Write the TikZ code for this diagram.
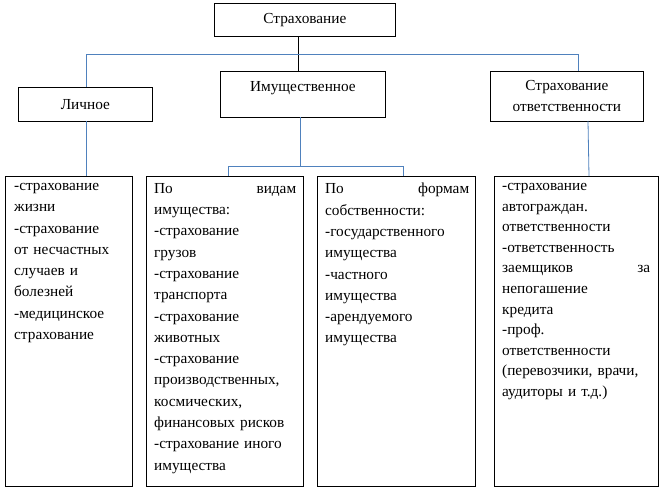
\documentclass[tikz,border=0pt]{standalone}
\usepackage{fontspec}
\setmainfont{Liberation Serif}
\definecolor{conn}{RGB}{79,129,189}
\begin{document}
\begin{tikzpicture}[x=1pt,y=-1pt,
  box/.style={draw,line width=0.8pt,anchor=north west,inner sep=0pt},
  txt/.style={anchor=north west,inner sep=0pt,align=left,font=\fontsize{15.3}{21.3}\selectfont},
  lbl/.style={font=\fontsize{15.3}{21}\selectfont,align=center},
  cn/.style={conn,line width=0.8pt}]
\useasboundingbox (0,0) rectangle (662,488);
\node[box,minimum width=181pt,minimum height=33pt] (top) at (214,3) {};
\node[lbl] at (top.center) {Страхование};
\node[box,minimum width=134pt,minimum height=34pt] (lich) at (18,87) {};
\node[lbl] at (lich.center) {Личное};
\node[box,minimum width=165pt,minimum height=46pt] (im) at (220,71) {};
\node[lbl] at ([yshift=6pt]im.center) {Имущественное};
\node[box,minimum width=153pt,minimum height=50pt] (otv) at (490,71) {};
\node[lbl] at (otv.center) {Страхование\\ответственности};

\node[box,minimum width=127pt,minimum height=310pt] (b1) at (5,176) {};
\node[box,minimum width=157pt,minimum height=310pt] (b2) at (146,176) {};
\node[box,minimum width=158pt,minimum height=310pt] (b3) at (317,176) {};
\node[box,minimum width=164pt,minimum height=310pt] (b4) at (494,176) {};

\node[txt,text width=118pt] (t1) at ([xshift=9pt,yshift=-7pt]b1.north west) {-страхование\\жизни\\-страхование\\от несчастных\\случаев и\\болезней\\-медицинское\\страхование};
\node[txt,text width=142pt] (t2) at ([xshift=8pt,yshift=-7pt]b2.north west) {По\hfill видам\\имущества:\\-страхование\\грузов\\-страхование\\транспорта\\-страхование\\животных\\-страхование\\производственных,\\космических,\\финансовых рисков\\-страхование иного\\имущества};
\node[txt,text width=144pt] (t3) at ([xshift=8pt,yshift=-7pt]b3.north west) {По\hfill формам\\собственности:\\-государственного\\имущества\\-частного\\имущества\\-арендуемого\\имущества};
\node[txt,text width=148pt,font=\fontsize{15.3}{20.6}\selectfont] (t4) at ([xshift=8pt,yshift=-7pt]b4.north west) {-страхование\\автограждан.\\ответственности\\-ответственность\\заемщиков\hfill за\\непогашение\\кредита\\-проф.\\ответственности\\(перевозчики, врачи,\\аудиторы и т.д.)};

\coordinate (hl) at (86,54);
\coordinate (hr) at (578,54);
\draw[line width=0.8pt] (298,36) -- (298,71);
\draw[cn] (86,87) -- (hl) -- (hr) -- (578,71);
\draw[cn] (86,121) -- (86,176);
\draw[cn] (300,117) -- (300,166);
\draw[cn] (228,176) -- (228,166) -- (403,166) -- (403,176);
\draw[cn] (588,121) -- (589,176);
\end{tikzpicture}
\end{document}
